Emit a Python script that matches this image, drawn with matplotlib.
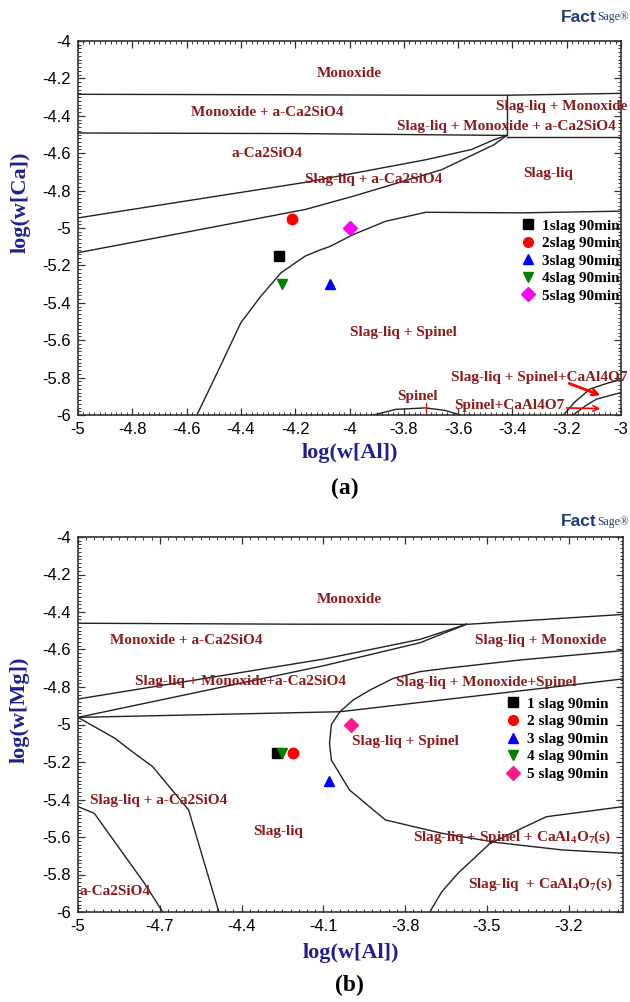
import matplotlib
matplotlib.use('Agg')
import matplotlib.pyplot as plt
from matplotlib.ticker import MultipleLocator, FixedLocator, FuncFormatter
from matplotlib.lines import Line2D

plt.rcParams['font.family'] = ['Liberation Serif', 'DejaVu Serif']
plt.rcParams['mathtext.fontset'] = 'custom'
plt.rcParams['mathtext.bf'] = 'Liberation Serif:bold'
plt.rcParams['mathtext.rm'] = 'Liberation Serif:bold'
plt.rcParams['mathtext.default'] = 'bf'

# ---------------- (a) log w[Ca] vs log w[Al] ----------------
a_mono_x = [-5.0, -4.4, -3.71, -3.42, -3.0]
a_mono_y = [-4.285, -4.287, -4.29, -4.29, -4.28]
a_c2s_x = [-5.0, -4.2, -3.42]
a_c2s_y = [-4.492, -4.495, -4.505]
a_vert_x = [-3.42, -3.42]
a_vert_y = [-4.29, -4.505]
a_right_x = [-3.42, -3.0]
a_right_y = [-4.512, -4.512]
a_up_x = [-5.0, -4.6, -4.163, -3.719, -3.55, -3.468, -3.421]
a_up_y = [-4.946, -4.855, -4.756, -4.635, -4.58, -4.528, -4.505]
a_low_x = [-5.0, -4.6, -4.163, -3.986, -3.66, -3.468, -3.421]
a_low_y = [-5.132, -5.022, -4.901, -4.83, -4.688, -4.555, -4.505]
a_spl_x = [-4.562, -4.481, -4.40, -4.326, -4.252, -4.163, -4.104, -4.074,
           -3.986, -3.867, -3.719, -3.365, -3.0]
a_spl_y = [-6.0, -5.755, -5.506, -5.364, -5.239, -5.15, -5.115, -5.10,
           -5.035, -4.964, -4.916, -4.919, -4.91]
a_dome_x = [-3.912, -3.83, -3.72, -3.65, -3.59]
a_dome_y = [-6.0, -5.97, -5.962, -5.975, -6.0]
a_ca1_x = [-3.212, -3.17, -3.114, -3.05, -3.0]
a_ca1_y = [-6.0, -5.93, -5.861, -5.83, -5.81]
a_ca2_x = [-3.176, -3.13, -3.09, -3.0]
a_ca2_y = [-6.0, -5.95, -5.915, -5.88]

a_pts_x = [-4.26, -4.21, -4.07, -4.25, -4.0]
a_pts_y = [-5.15, -4.95, -5.30, -5.30, -5.0]
a_names = ['1slag 90min', '2slag 90min', '3slag 90min', '4slag 90min', '5slag 90min']

a_labels = ['Monoxide', 'Monoxide + a-Ca2SiO4', 'Slag-liq + Monoxide',
            'Slag-liq + Monoxide + a-Ca2SiO4', 'a-Ca2SiO4', 'Slag-liq + a-Ca2SiO4',
            'Slag-liq', 'Slag-liq + Spinel', 'Slag-liq + Spinel+CaAl4O7',
            'Spinel+CaAl4O7', 'Spinel']
a_lab_x = [-4.0, -4.304, -3.217, -3.423, -4.304, -3.912, -3.27, -3.80, -3.30, -3.41, -3.75]
a_lab_y = [-4.176, -4.382, -4.35, -4.457, -4.603, -4.741, -4.709, -5.559, -5.80, -5.95, -5.90]

a_xticks = [-5.0, -4.8, -4.6, -4.4, -4.2, -4.0, -3.8, -3.6, -3.4, -3.2, -3.0]

# ---------------- (b) log w[Mg] vs log w[Al] ----------------
b_top_x = [-5.0, -4.197, -3.574, -3.0]
b_top_y = [-4.46, -4.465, -4.466, -4.413]
b_cu_x = [-5.0, -4.094, -3.745, -3.574]
b_cu_y = [-4.864, -4.65, -4.546, -4.465]
b_cl_x = [-5.0, -4.094, -3.745, -3.574]
b_cl_y = [-4.962, -4.685, -4.564, -4.465]
b_hl_x = [-5.0, -4.039, -3.0]
b_hl_y = [-4.962, -4.932, -4.757]
b_big_x = [-3.0, -3.223, -3.46, -3.665, -3.872, -4.004, -4.07, -4.077, -4.07,
           -4.039, -3.99, -3.928, -3.843, -3.745, -3.647, -3.378, -3.0]
b_big_y = [-5.687, -5.669, -5.63, -5.58, -5.509, -5.349, -5.19, -5.10, -5.0,
           -4.932, -4.869, -4.816, -4.754, -4.718, -4.70, -4.656, -4.606]
b_br_x = [-3.709, -3.665, -3.606, -3.488, -3.282, -3.0]
b_br_y = [-6.0, -5.892, -5.794, -5.634, -5.492, -5.438]
b_l1_x = [-5.0, -4.864, -4.809, -4.726, -4.594, -4.483]
b_l1_y = [-4.962, -5.074, -5.136, -5.225, -5.456, -6.0]
b_l2_x = [-5.0, -4.94, -4.844, -4.756, -4.689]
b_l2_y = [-5.438, -5.474, -5.669, -5.847, -6.0]

b_pts_x = [-4.27, -4.21, -4.08, -4.25, -4.0]
b_pts_y = [-5.15, -5.15, -5.30, -5.15, -5.0]
b_names = ['1 slag 90min', '2 slag 90min', '3 slag 90min', '4 slag 90min', '5 slag 90min']

b_labels = ['Monoxide', 'Monoxide + a-Ca2SiO4', 'Slag-liq + Monoxide',
            'Slag-liq + Monoxide+a-Ca2SiO4', 'Slag-liq + Monoxide+Spinel',
            'Slag-liq + Spinel', 'Slag-liq + a-Ca2SiO4', 'Slag-liq',
            r'Slag-liq + Spinel + CaAl$_4$O$_7$(s)', r'Slag-liq  + CaAl$_4$O$_7$(s)',
            'a-Ca2SiO4']
b_lab_x = [-4.004, -4.601, -3.303, -4.402, -3.50, -3.80, -4.704, -4.266, -3.407, -3.304, -4.866]
b_lab_y = [-4.333, -4.553, -4.553, -4.772, -4.777, -5.09, -5.406, -5.568, -5.604, -5.851, -5.892]

b_xticks = [-5.0, -4.7, -4.4, -4.1, -3.8, -3.5, -3.2]

markers = ['s', 'o', '^', 'v', 'D']
a_colors = ['black', 'red', 'blue', 'green', 'magenta']
b_colors = ['black', 'red', 'blue', 'green', '#ff1a8c']

LINE = '#222222'
PHASE = '#8b1c1c'
AXLAB = '#1f1f8f'


def fmt(v, pos):
    return '%g' % round(v, 2)


def style_axes(ax, xticks, nminor):
    ax.set_xlim(-5, -3)
    ax.set_ylim(-6, -4)
    step = (xticks[1] - xticks[0]) / nminor
    minors = [-5.0 + i * step for i in range(int(round(2.0 / step)) + 1)]
    ax.xaxis.set_major_locator(FixedLocator(xticks))
    ax.xaxis.set_minor_locator(FixedLocator(minors))
    ax.yaxis.set_major_locator(MultipleLocator(0.2))
    ax.yaxis.set_minor_locator(MultipleLocator(0.02))
    ax.xaxis.set_major_formatter(FuncFormatter(fmt))
    ax.yaxis.set_major_formatter(FuncFormatter(fmt))
    ax.tick_params(which='both', direction='in', top=True, right=True,
                   labelsize=12, pad=5, color='#333333')
    ax.tick_params(which='major', length=5, width=0.9)
    ax.tick_params(which='minor', length=2.5, width=0.7)
    for lab in ax.get_xticklabels() + ax.get_yticklabels():
        lab.set_family('Liberation Sans')
    for s in ax.spines.values():
        s.set_linewidth(1.2)
        s.set_color('#333333')


def draw_points(ax, xs, ys, colors, names, anchor):
    for i in range(len(xs)):
        ax.plot(xs[i], ys[i], marker=markers[i], color=colors[i], ms=7.5,
                ls='none', zorder=5)
    handles = [Line2D([], [], marker=markers[i], color=colors[i], ls='none', ms=7)
               for i in range(len(names))]
    leg = ax.legend(handles, names, loc='upper left', bbox_to_anchor=anchor,
                    frameon=False, borderpad=0, borderaxespad=0,
                    handlelength=0.8, handletextpad=0.5, labelspacing=0.25,
                    prop={'family': 'Liberation Serif', 'weight': 'bold', 'size': 11})
    return leg


fig = plt.figure(figsize=(6.3, 10.02), dpi=100)

# ---- panel (a)
ax1 = fig.add_axes([78 / 630, 1 - 415 / 1002, 543 / 630, 374 / 1002])
for xs, ys in [(a_mono_x, a_mono_y), (a_c2s_x, a_c2s_y), (a_vert_x, a_vert_y),
               (a_right_x, a_right_y), (a_up_x, a_up_y), (a_low_x, a_low_y),
               (a_spl_x, a_spl_y), (a_dome_x, a_dome_y), (a_ca1_x, a_ca1_y),
               (a_ca2_x, a_ca2_y)]:
    ax1.plot(xs, ys, color=LINE, lw=1.0)
for t, x, y in zip(a_labels, a_lab_x, a_lab_y):
    ax1.text(x, y, t, ha='center', va='center', color=PHASE, fontsize=11,
             fontweight='bold', clip_on=False)
ax1.plot([-3.72, -3.72], [-5.935, -6.0], color='red', lw=0.9)
ax1.annotate('', xy=(-3.066, -5.90), xytext=(-3.2, -5.826),
             arrowprops=dict(arrowstyle='->', color='red', lw=2.0))
ax1.annotate('', xy=(-3.066, -5.966), xytext=(-3.21, -5.962),
             arrowprops=dict(arrowstyle='->', color='red', lw=1.2))
draw_points(ax1, a_pts_x, a_pts_y, a_colors, a_names, (0.818, 0.524))
style_axes(ax1, a_xticks, 10)
ax1.set_xlabel('log(w[Al])', fontsize=16, fontweight='bold', color=AXLAB)
ax1.xaxis.set_label_coords(0.5, -0.075)
ax1.set_ylabel('log(w[Ca])', fontsize=16, fontweight='bold', color=AXLAB)
ax1.yaxis.set_label_coords(-0.088, 0.57)

# ---- panel (b)
ax2 = fig.add_axes([78 / 630, 1 - 912 / 1002, 545 / 630, 375 / 1002])
for xs, ys in [(b_top_x, b_top_y), (b_cu_x, b_cu_y), (b_cl_x, b_cl_y),
               (b_hl_x, b_hl_y), (b_big_x, b_big_y), (b_br_x, b_br_y),
               (b_l1_x, b_l1_y), (b_l2_x, b_l2_y)]:
    ax2.plot(xs, ys, color=LINE, lw=1.0)
for t, x, y in zip(b_labels, b_lab_x, b_lab_y):
    ax2.text(x, y, t, ha='center', va='center', color=PHASE, fontsize=11,
             fontweight='bold', clip_on=False)
draw_points(ax2, b_pts_x, b_pts_y, b_colors, b_names, (0.787, 0.573))
style_axes(ax2, b_xticks, 10)
ax2.set_xlabel('log(w[Al])', fontsize=16, fontweight='bold', color=AXLAB)
ax2.xaxis.set_label_coords(0.5, -0.082)
ax2.set_ylabel('log(w[Mg])', fontsize=16, fontweight='bold', color=AXLAB)
ax2.yaxis.set_label_coords(-0.088, 0.54)

# captions
fig.text(0.548, 1 - 488 / 1002, '(a)', ha='center', va='center',
         fontsize=17, fontweight='bold')
fig.text(0.554, 1 - 985 / 1002, '(b)', ha='center', va='center',
         fontsize=17, fontweight='bold')

# FactSage marks
for yc in [1 - 17 / 1002, 1 - 522 / 1002]:
    fig.text(597 / 630, yc, 'Fact', ha='right', va='center', fontsize=12.5,
             fontweight='bold', color='#1f3c78', family='Liberation Sans')
    fig.text(597 / 630, yc, 'Sage\u00ae', ha='left', va='center', fontsize=8.5,
             color='#1f3c78', family='Liberation Serif')

fig.savefig('out.png', dpi=100)
